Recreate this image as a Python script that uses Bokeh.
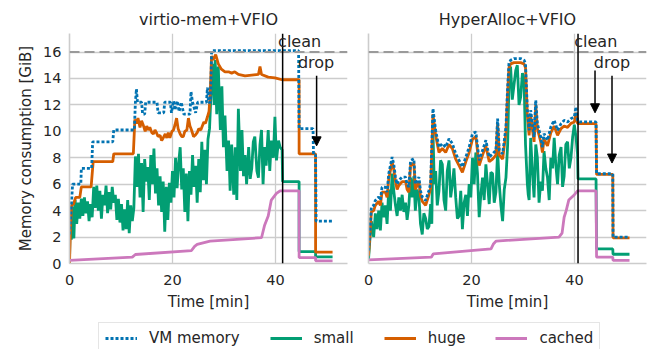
from bokeh.plotting import figure
from bokeh.layouts import column, row
from bokeh.models import (Range1d, Span, Label, Arrow, NormalHead, Legend, LegendItem,
                          FixedTicker, CustomJSTickFormatter)
from bokeh.embed import file_html
from bokeh.resources import INLINE

# ---------------- data: virtio-mem+VFIO (left panel) ----------------
L_vm_t = [0, 0.3, 0.6, 2.2, 2.3, 4.3, 4.5, 8.4, 8.6, 12.6, 12.8, 13.0, 13.2, 14.0, 14.2, 14.6, 14.8,
          17.0, 17.2, 18.3, 18.5, 19.6, 19.8, 20.2, 20.5, 20.9, 21.3, 21.7, 22.2, 23.4, 23.6, 23.9,
          24.5, 24.9, 26.6, 26.8, 27.0, 27.4, 27.6, 44.5, 44.6, 47.3, 47.4, 47.8, 47.9, 51.1]
L_vm = [2.2, 4.0, 6.0, 6.0, 7.2, 7.2, 9.2, 9.2, 10.1, 10.1, 12.2, 13.2, 12.2, 12.2, 11.3, 11.3, 12.2,
        12.2, 11.4, 11.4, 12.2, 12.2, 11.4, 12.3, 11.6, 12.3, 11.5, 12.2, 11.3, 11.3, 13.0, 12.2,
        11.4, 12.2, 12.2, 13.3, 12.2, 12.2, 16.1, 16.1, 10.2, 10.2, 8.2, 8.2, 3.2, 3.2]

L_small_t = [0.0, 0.15, 0.35, 0.6, 0.85, 1.1, 1.4, 1.7, 2.0, 2.3, 2.6, 2.9, 3.2, 3.5, 3.8, 4.1, 4.4,
             4.7, 5.0, 5.3, 5.6, 5.9, 6.2, 6.5, 6.8, 7.1, 7.4, 7.7, 8.0, 8.3, 8.6, 8.9, 9.2, 9.5,
             9.8, 10.1, 10.4, 10.7, 11.0, 11.3, 11.6, 11.9, 12.2, 12.5, 12.8, 13.1, 13.4, 13.7,
             14.0, 14.3, 14.6, 14.9, 15.2, 15.5, 15.8, 16.1, 16.4, 16.7, 17.0, 17.3, 17.6, 17.9,
             18.2, 18.5, 18.8, 19.1, 19.4, 19.7, 20.0, 20.3, 20.6, 20.9, 21.2, 21.5, 21.8, 22.1,
             22.4, 22.7, 23.0, 23.3, 23.6, 23.9, 24.2, 24.5, 24.8, 25.1, 25.4, 25.7, 26.0, 26.3,
             26.6, 26.9, 27.2, 27.5, 27.8, 28.1, 28.3, 28.6, 28.9, 29.3, 29.6, 29.9, 30.2, 30.6,
             30.9, 31.2, 31.5, 31.9, 32.2, 32.5, 32.8, 33.2, 33.5, 33.8, 34.1, 34.4, 34.8, 35.1,
             35.4, 35.7, 36.0, 36.4, 36.7, 37.0, 37.3, 37.6, 37.9, 38.2, 38.6, 38.9, 39.2, 39.6,
             39.9, 40.2, 40.6, 40.9, 41.3, 41.4, 44.6, 44.6, 47.8, 47.8, 51.1]
L_small = [0.0, 3.8, 1.8, 4.3, 1.9, 4.8, 3.0, 4.6, 3.4, 4.9, 3.6, 5.0, 3.8, 4.7, 3.2, 4.5, 3.5,
           5.8, 4.2, 5.9, 4.0, 5.5, 3.4, 5.2, 4.4, 5.9, 3.8, 5.4, 4.1, 5.8, 4.6, 5.2, 3.3, 4.9,
           3.1, 4.5, 2.5, 4.1, 2.6, 4.8, 2.3, 4.4, 3.2, 4.2, 8.1, 5.8, 8.3, 5.0,
           7.6, 3.9, 7.9, 6.2, 7.3, 4.8, 8.2, 6.0, 8.7, 5.3, 7.2, 4.4, 6.6, 3.9,
           6.2, 2.4, 5.8, 3.3, 6.1, 4.6, 7.0, 5.0, 8.0, 5.7, 7.6, 8.8, 5.6, 7.2,
           3.9, 6.8, 3.2, 7.0, 5.2, 8.2, 5.8, 7.4, 4.6, 7.9, 5.4, 9.2, 6.3, 8.6,
           6.0, 9.4, 10.2, 13.0, 15.1, 12.0, 15.4, 11.3, 14.9, 10.1, 13.4, 8.8, 11.2, 7.0,
           9.3, 5.5, 9.0, 5.2, 8.8, 4.8, 11.7, 7.0, 10.1, 6.6, 8.2, 6.0, 8.8, 6.4,
           7.2, 9.2, 9.6, 7.0, 6.5, 9.0, 10.1, 6.0, 8.8, 7.4, 10.1, 7.0, 9.3, 8.0,
           11.1, 7.8, 9.3, 8.8, 8.6, 6.2, 6.2, 0.9, 0.9, 0.5, 0.5]

L_huge_t = [0, 0.2, 0.4, 0.8, 1.2, 2.0, 2.3, 4.2, 4.6, 8.4, 8.6, 12.4, 12.7, 13.0, 13.3, 13.7, 14.0,
            14.3, 14.7, 15.0, 15.3, 15.6, 16.0, 16.3, 16.6, 16.9, 17.2, 17.6, 17.9, 18.2, 18.6,
            18.9, 19.2, 19.5, 19.9, 20.2, 20.5, 20.8, 21.1, 21.5, 21.8, 22.1, 22.4, 22.8, 23.1,
            23.4, 23.7, 24.1, 24.4, 24.8, 25.1, 25.5, 25.8, 26.1, 26.4, 26.8, 27.1, 27.3, 27.6,
            27.9, 28.4, 28.9, 29.5, 30.2, 30.9, 31.5, 32.1, 32.8, 34.1, 35.4, 36.7, 37.0, 37.3,
            38.6, 39.9, 41.3, 44.6, 44.6, 47.8, 47.8, 51.1]
L_huge = [0.0, 2.8, 4.4, 4.5, 5.0, 5.0, 5.8, 5.8, 7.7, 7.7, 8.3, 8.3, 10.9, 10.6, 11.0, 10.3, 10.8,
          10.5, 10.0, 10.4, 10.1, 10.3, 9.9, 9.8, 10.1, 9.9, 9.6, 9.7, 9.3, 9.5, 9.8,
          9.5, 9.9, 9.5, 10.0, 10.1, 10.5, 11.0, 10.2, 9.8, 9.6, 9.6, 10.0, 10.1, 11.0,
          10.4, 10.1, 9.6, 9.7, 9.9, 10.2, 10.1, 10.4, 10.7, 10.6, 11.1, 11.5, 12.6, 15.7,
          15.4, 15.8, 15.1, 14.7, 14.5, 14.5, 14.4, 14.5, 14.3, 14.2, 14.25, 14.3, 14.9, 14.3,
          14.1, 14.05, 13.9, 13.9, 8.3, 8.3, 0.86, 0.86]

L_cached_t = [0, 12.2, 12.8, 23.7, 24.3, 24.8, 27.3, 37.3, 37.9, 38.6, 39.2, 40.2, 40.9, 44.6,
              44.6, 47.8, 47.8, 51.1]
L_cached = [0.23, 0.48, 0.68, 0.98, 1.3, 1.45, 1.7, 1.95, 2.9, 3.6, 4.8, 5.3, 5.5, 5.5,
            0.45, 0.45, 0.2, 0.2]

# ---------------- data: HyperAlloc+VFIO (right panel) ----------------
R_t = [0.0, 0.3, 0.55, 1.0, 1.33, 1.98, 2.31, 2.63, 3.28, 3.61, 3.93, 4.59, 4.91, 5.24, 5.56, 5.89,
       6.54, 7.2, 7.5, 7.84, 8.17, 8.81, 9.1, 9.8, 10.1, 10.44, 11.1, 11.74, 12.07, 12.52, 13.04,
       13.69, 14.34, 14.99, 15.64, 16.29, 16.94, 17.6, 18.24, 18.9, 19.55, 20.2, 20.85, 21.5,
       22.15, 22.8, 23.45, 24.1, 24.75, 25.08, 25.4, 26.05, 26.7, 27.0, 27.28, 27.6, 28.26,
       28.91, 29.56, 30.21, 30.5, 30.86, 31.2, 31.5, 32.16, 32.49, 32.8, 33.46, 33.79, 34.1,
       34.77, 35.42, 36.07, 36.72, 37.4, 38.0, 38.67, 39.33, 39.98, 40.3, 40.6, 40.95, 44.2,
       44.3, 47.45, 47.5, 50.7]
R_vm = [0.98, 2.5, 4.27, 4.4, 4.77, 5.03, 4.8, 5.78, 5.78, 5.4, 6.79, 8.05, 7.5, 6.54, 6.0, 6.29,
        6.54, 6.54, 6.0, 5.78, 7.8, 7.93, 6.0, 6.54, 5.5, 5.03, 4.77, 5.53, 6.04, 11.72, 10.08,
        8.8, 9.07, 8.8, 9.44, 9.07, 8.3, 7.8, 7.3, 8.05, 8.8, 9.82, 9.95, 7.8,
        8.56, 9.32, 8.05, 8.3, 8.56, 10.96, 8.56, 8.3, 10.3, 13.1, 15.13, 15.38, 15.5,
        15.5, 15.5, 15.38, 15.13, 11.59, 10.08, 11.59, 9.57, 12.35, 10.58, 9.57, 8.8, 9.82,
        9.32, 10.33, 10.83, 10.08, 10.58, 10.83, 10.71, 10.96, 11.09, 11.84, 10.83, 10.71, 10.71,
        6.79, 6.79, 1.99, 1.99]
R_huge = [0.6, 2.2, 3.9, 4.0, 4.4, 4.7, 4.4, 5.4, 5.4, 5.0, 6.4, 7.7, 7.1, 6.2, 5.6, 5.9,
          6.2, 6.2, 5.6, 5.4, 7.4, 7.6, 5.6, 6.2, 5.1, 4.7, 4.4, 5.2, 5.7, 11.3, 9.7,
          8.4, 8.7, 8.4, 9.0, 8.7, 7.9, 7.4, 6.9, 7.7, 8.4, 9.4, 9.6, 7.4,
          8.2, 8.9, 7.7, 7.9, 8.2, 10.6, 8.2, 7.9, 9.9, 12.7, 14.8, 15.1, 15.2,
          15.2, 15.2, 15.1, 14.8, 11.2, 9.7, 11.2, 9.2, 12.0, 10.2, 9.2, 8.4, 9.4,
          8.9, 9.9, 10.4, 9.7, 10.2, 10.4, 10.3, 10.6, 10.7, 11.4, 10.6, 10.58, 10.58,
          6.74, 6.74, 1.94, 1.94]

R_small_t = [0.0, 0.3, 0.55, 1.0, 1.33, 1.65, 1.98, 2.31, 2.63, 2.95, 3.28, 3.61, 3.93, 4.26, 4.59,
             4.91, 5.24, 5.56, 5.89, 6.2, 6.54, 6.87, 7.2, 7.5, 7.84, 8.17, 8.5, 8.81, 9.1, 9.45,
             9.8, 10.1, 10.44, 10.75, 11.1, 11.42, 11.74, 12.07, 12.3, 12.52, 12.78, 13.04, 13.36,
             13.69, 14.0, 14.34, 14.66, 14.99, 15.3, 15.64, 15.96, 16.29, 16.6, 16.94, 17.27,
             17.6, 17.92, 18.24, 18.57, 18.9, 19.22, 19.55, 19.87, 20.2, 20.52, 20.85, 21.17,
             21.5, 21.82, 22.15, 22.47, 22.8, 23.12, 23.45, 23.77, 24.1, 24.42, 24.75, 25.08,
             25.4, 25.72, 26.05, 26.37, 26.7, 27.03, 27.28, 27.6, 27.93, 28.26, 28.6, 28.91,
             29.24, 29.56, 29.9, 30.21, 30.5, 30.86, 31.03, 31.2, 31.5, 31.83, 32.16, 32.49,
             32.8, 33.13, 33.46, 33.79, 34.1, 34.44, 34.77, 35.1, 35.42, 35.75, 36.07, 36.4,
             36.72, 37.05, 37.4, 37.7, 38.0, 38.33, 38.67, 39.0, 39.33, 39.66, 39.98, 40.3,
             40.6, 40.7, 44.2, 44.3, 47.45, 47.5, 50.7]
R_small = [0.3, 2.0, 3.2, 2.0, 3.8, 2.6, 4.0, 2.5, 4.6, 3.5, 4.4, 3.0, 5.6, 4.0, 6.8,
           5.5, 4.4, 3.6, 5.0, 4.0, 5.2, 3.9, 4.6, 3.3, 4.4, 6.5, 5.0, 6.6, 4.0, 5.6,
           5.0, 3.0, 2.2, 3.8, 3.4, 2.6, 2.8, 4.5, 3.0, 10.0, 6.0, 7.0, 4.4,
           5.5, 7.8, 7.5, 4.8, 4.0, 7.0, 7.8, 5.0, 6.0, 7.2, 5.0, 3.4,
           3.6, 5.5, 2.6, 4.6, 5.2, 3.6, 6.0, 5.0, 8.0, 6.0, 8.4, 6.8,
           3.5, 5.2, 6.5, 4.8, 7.5, 6.0, 4.5, 6.9, 6.8, 4.6, 5.4, 8.5,
           6.0, 4.4, 3.2, 5.6, 6.5, 9.0, 13.5, 14.9, 12.4, 13.5, 14.6, 15.0,
           12.0, 12.6, 14.4, 14.0, 9.0, 6.0, 5.2, 4.8, 9.5, 7.0, 5.0, 9.0,
           8.0, 4.6, 6.2, 5.5, 8.5, 7.2, 6.5, 4.8, 8.0, 7.2, 9.5, 7.4,
           6.0, 8.2, 8.8, 5.8, 6.6, 9.0, 9.2, 7.2, 8.0, 9.6, 10.5, 9.6,
           8.3, 6.4, 6.4, 1.1, 1.1, 0.7, 0.7]

R_cached_t = [0, 12.2, 12.6, 23.8, 24.3, 24.8, 37.0, 37.6, 38.0, 38.4, 38.9, 40.0, 40.6, 44.2,
              44.3, 47.45, 47.5, 50.7]
R_cached = [0.28, 0.48, 0.73, 1.1, 1.5, 1.7, 2.0, 2.3, 3.5, 4.0, 4.8, 5.2, 5.5, 5.5,
            0.48, 0.48, 0.23, 0.23]

# ---------------- annotations ----------------
vm_limit = 16
L_clean_x = 41.4
L_drop_arrows = [(48.0, 14.2, 8.9)]
L_clean_label = (44.7, 16.8)
L_drop_label = (47.9, 15.2)
R_clean_x = 40.7
R_drop_arrows = [(44.0, 14.6, 11.4), (47.3, 14.2, 7.6)]
R_clean_label = (44.15, 16.8)
R_drop_label = (47.3, 15.2)

titles = ["virtio-mem+VFIO", "HyperAlloc+VFIO"]
x_ticks = [0, 20, 40]
y_ticks = [0, 2, 4, 6, 8, 10, 12, 14, 16]
legend_labels = ["VM memory", "small", "huge", "cached"]

C_VM = "#0173b2"
C_SMALL = "#029e73"
C_HUGE = "#d55e00"
C_CACHED = "#cc78bc"
TXT = "#262626"
GRID = "#cccccc"
FONT = "DejaVu Sans"
LW = 2.8
PANEL_H = 315


def make_panel(title, width, mb_left, mb_right, show_ylabels):
    p = figure(width=width, height=PANEL_H, output_backend="svg", toolbar_location=None,
               x_range=Range1d(0, 54), y_range=Range1d(0, 17.4),
               min_border_left=mb_left, min_border_right=mb_right,
               min_border_top=33, min_border_bottom=52)
    p.title.text = title
    p.title.align = "center"
    p.title.text_font = FONT
    p.title.text_font_size = "16px"
    p.title.text_font_style = "normal"
    p.title.text_color = TXT
    p.title.standoff = 10
    p.outline_line_color = None
    p.background_fill_color = "white"
    p.border_fill_color = "white"

    p.xaxis.ticker = FixedTicker(ticks=x_ticks)
    p.yaxis.ticker = FixedTicker(ticks=y_ticks)
    for ax in (p.xaxis[0], p.yaxis[0]):
        ax.axis_line_color = GRID
        ax.axis_line_width = 1.6
        ax.major_tick_out = 0
        ax.major_tick_in = 0
        ax.minor_tick_out = 0
        ax.minor_tick_in = 0
        ax.major_label_text_font = FONT
        ax.major_label_text_font_size = "14.5px"
        ax.major_label_text_color = TXT
        ax.axis_label_text_font = FONT
        ax.axis_label_text_font_size = "15px"
        ax.axis_label_text_font_style = "normal"
        ax.axis_label_text_color = TXT
    p.xaxis.axis_label = "Time [min]"
    p.xaxis.major_label_standoff = 11
    p.xaxis.axis_label_standoff = 5
    if show_ylabels:
        p.yaxis.axis_label = "Memory consumption [GiB]"
        p.yaxis.major_label_standoff = 8
        p.yaxis.axis_label_standoff = 5
    else:
        p.yaxis.formatter = CustomJSTickFormatter(code="return ''")
        p.yaxis.major_label_standoff = 0
    p.xgrid.grid_line_color = GRID
    p.ygrid.grid_line_color = GRID
    p.xgrid.grid_line_width = 1.3
    p.ygrid.grid_line_width = 1.3
    p.add_layout(Span(location=vm_limit, dimension="width", line_color="#9a9a9a",
                      line_dash="10 5", line_width=2))
    return p


def annotate(p, clean_x, arrows, clean_label, drop_label):
    p.add_layout(Span(location=clean_x, dimension="height", line_color="black", line_width=1.5))
    for (ax, y0, y1) in arrows:
        p.add_layout(Arrow(end=NormalHead(size=9, fill_color="black", line_color="black",
                                          line_width=1),
                           x_start=ax, y_start=y0, x_end=ax, y_end=y1,
                           line_color="black", line_width=1.5))
    for (lx, ly), txt in ((clean_label, "clean"), (drop_label, "drop")):
        p.add_layout(Label(x=lx, y=ly, text=txt, text_align="center", text_baseline="middle",
                           text_font=FONT, text_font_size="16px", text_color=TXT))


p1 = make_panel(titles[0], 355, 69, 8, True)
p1.line(L_small_t, L_small, line_color=C_SMALL, line_width=LW)
p1.line(L_huge_t, L_huge, line_color=C_HUGE, line_width=LW)
p1.line(L_cached_t, L_cached, line_color=C_CACHED, line_width=LW)
p1.line(L_vm_t, L_vm, line_color=C_VM, line_width=LW, line_dash="3 2")
annotate(p1, L_clean_x, L_drop_arrows, L_clean_label, L_drop_label)

p2 = make_panel(titles[1], 294, 13, 3, False)
p2.line(R_small_t, R_small, line_color=C_SMALL, line_width=LW)
p2.line(R_t, R_huge, line_color=C_HUGE, line_width=LW)
p2.line(R_cached_t, R_cached, line_color=C_CACHED, line_width=LW)
p2.line(R_t, R_vm, line_color=C_VM, line_width=LW, line_dash="3 2")
annotate(p2, R_clean_x, R_drop_arrows, R_clean_label, R_drop_label)

# legend strip
lf = figure(width=649, height=349 - PANEL_H, output_backend="svg", toolbar_location=None,
            x_axis_type=None, y_axis_type=None, min_border=0,
            x_range=Range1d(0, 1), y_range=Range1d(0, 1))
lf.outline_line_color = None
off = [-5, -4]
r_vm = lf.line(off, off, line_color=C_VM, line_width=LW, line_dash="3 2")
r_small = lf.line(off, off, line_color=C_SMALL, line_width=LW)
r_huge = lf.line(off, off, line_color=C_HUGE, line_width=LW)
r_cached = lf.line(off, off, line_color=C_CACHED, line_width=LW)
leg = Legend(items=[LegendItem(label=legend_labels[0], renderers=[r_vm]),
                    LegendItem(label=legend_labels[1], renderers=[r_small]),
                    LegendItem(label=legend_labels[2], renderers=[r_huge]),
                    LegendItem(label=legend_labels[3], renderers=[r_cached])],
             orientation="horizontal", location=(98, -5),
             glyph_width=32, glyph_height=18, label_height=18, label_standoff=12,
             spacing=30, padding=6, margin=0,
             border_line_color=GRID, border_line_width=1.3,
             label_text_font=FONT, label_text_font_size="15px", label_text_color=TXT)
lf.add_layout(leg)

layout = column(row(p1, p2), lf)
open("out.html", "w").write(file_html(layout, INLINE))
